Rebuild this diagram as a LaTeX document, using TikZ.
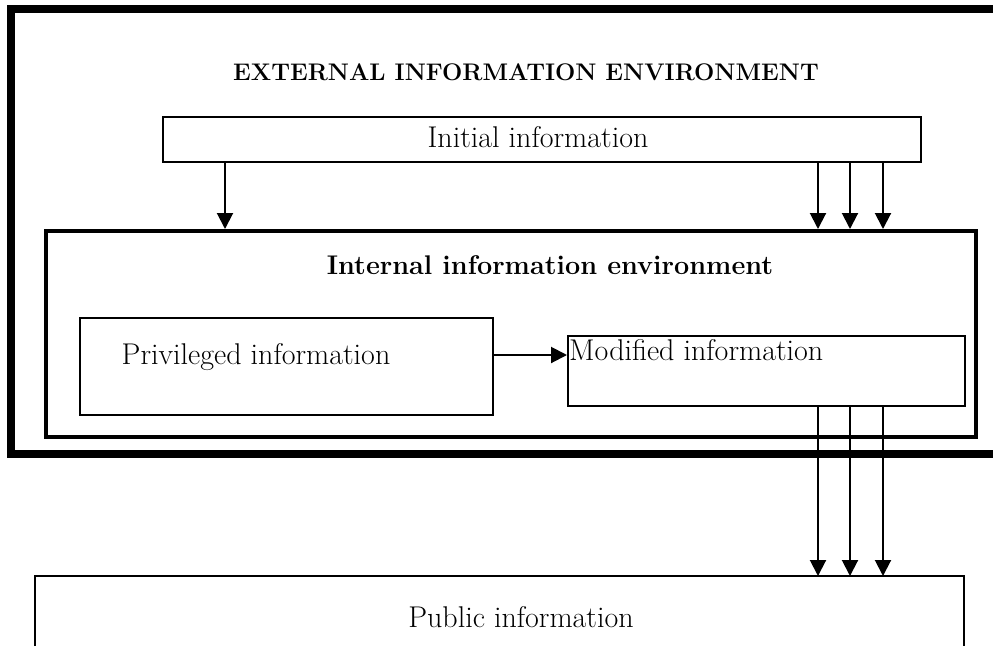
\documentclass[tikz,border=0pt]{standalone}
\usetikzlibrary{arrows.meta}
\begin{document}
\begin{tikzpicture}[x=1pt,y=-1pt,
  box/.style={draw,line width=2pt,inner sep=0pt,anchor=north west},
  lbl/.style={font=\fontsize{30}{36}\selectfont},
  ttl/.style={font=\fontsize{24}{29}\selectfont\bfseries},
  ttlb/.style={font=\fontsize{27}{32}\selectfont\bfseries},
  arr/.style={line width=2pt,-{Triangle[width=16pt,length=16pt]}}]
\useasboundingbox (0,0) rectangle (993,646);
% outer external environment frame (open on the right)
\coordinate (o1) at (993,9);
\coordinate (o2) at (11,9);
\coordinate (o3) at (11,453.5);
\coordinate (o4) at (993,453.5);
\draw[line width=8pt] (o1) -- (o2) -- (o3) -- (o4);
\node[ttl] (ext) at (526,72) {EXTERNAL INFORMATION ENVIRONMENT};
% initial information
\node[box,minimum width=758pt,minimum height=45pt] (init) at (162,116) {};
\node[lbl] (initt) at (538,137) {Initial information};
% internal environment
\node[draw,line width=4pt,inner sep=0pt,anchor=north west,minimum width=930pt,minimum height=206pt] (int) at (44,229) {};
\node[ttlb] (intt) at (550,265) {Internal information environment};
% privileged
\node[box,minimum width=413pt,minimum height=97pt] (priv) at (79,317) {};
\node[lbl] (privt) at (256,357) {Privileged information};
% modified
\node[box,minimum width=397pt,minimum height=70pt] (mod) at (567,335) {};
\node[lbl,anchor=north west,inner sep=0pt] (modt) at (569,339) {Modified information};
% public (bottom cut off)
\coordinate (p1) at (35,646);
\coordinate (p2) at (35,576);
\coordinate (p3) at (964,576);
\coordinate (p4) at (964,646);
\draw[line width=2pt] (p1) -- (p2) -- (p3) -- (p4);
\node[lbl] (pub) at (521,617) {Public information};
% arrows
\draw[arr] (init.south -| 225,0) -- (int.north -| 225,0);
\foreach \x in {818,850,883}{
  \draw[arr] (init.south -| \x,0) -- (int.north -| \x,0);
  \draw[arr] (mod.south -| \x,0) -- (p3 -| \x,0);
}
\draw[arr] (priv.east |- 0,355) -- (mod.west |- 0,355);
\end{tikzpicture}
\end{document}
